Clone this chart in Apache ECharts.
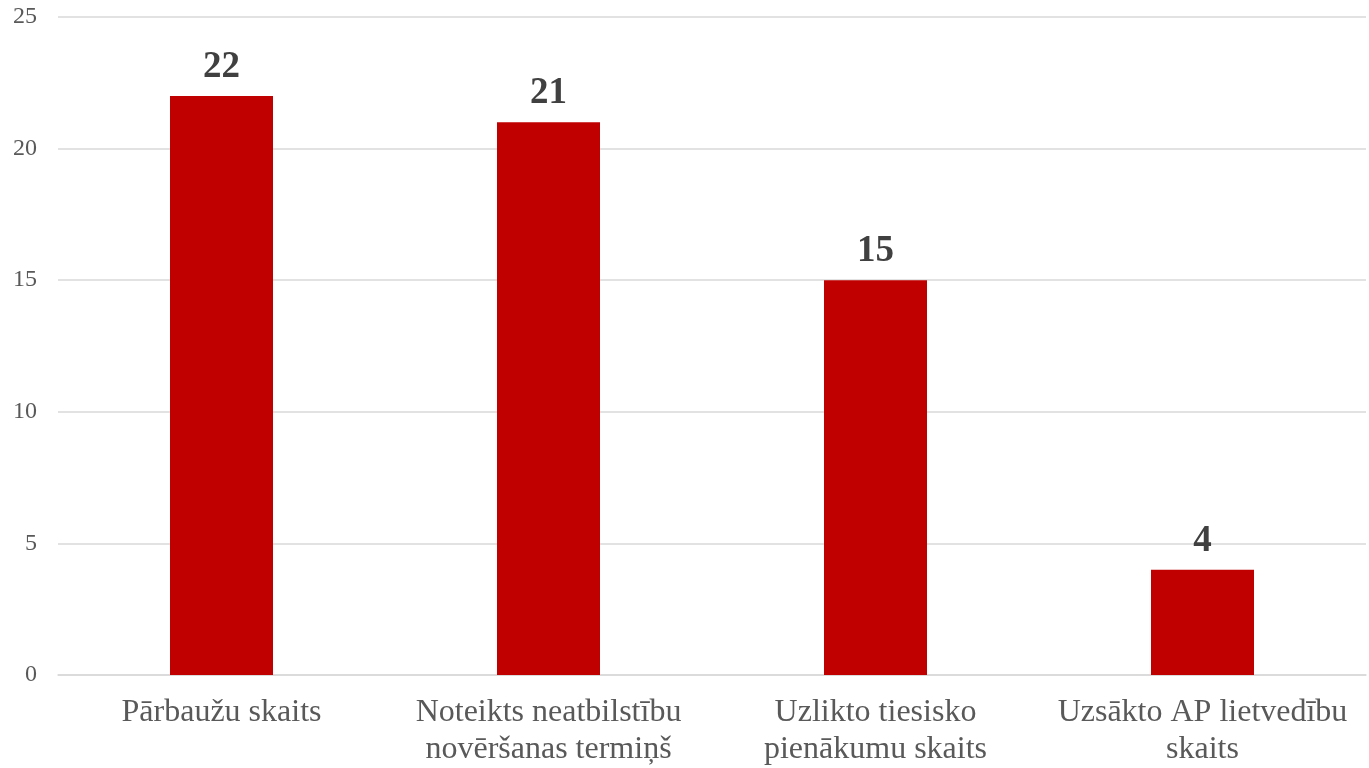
<!DOCTYPE html>
<html><head><meta charset="utf-8">
<script src="https://cdn.jsdelivr.net/npm/echarts@6/dist/echarts.min.js"></script>
<style>html,body{margin:0;padding:0;background:#fff}#c{width:1369px;height:768px}</style>
</head><body><div id="c"></div>
<script>
const categories = ['Pārbaužu skaits', 'Noteikts neatbilstību\nnovēršanas termiņš', 'Uzlikto tiesisko\npienākumu skaits', 'Uzsākto AP lietvedību\nskaits'];
const values = [22, 21, 15, 4];
const font = '"Liberation Serif", "Times New Roman", serif';
const chart = echarts.init(document.getElementById('c'));
chart.setOption({
  animation: false,
  grid: {left: 58, right: 3, top: 17, bottom: 92, containLabel: false},
  xAxis: {
    type: 'category', data: categories,
    axisLine: {lineStyle: {color: '#d9d9d9', width: 1.5}},
    axisTick: {show: false},
    axisLabel: {color: '#595959', fontFamily: font, fontSize: 32, lineHeight: 37, margin: 19, interval: 0}
  },
  yAxis: {
    type: 'value', min: 0, max: 25, interval: 5,
    axisLine: {show: false}, axisTick: {show: false},
    splitLine: {lineStyle: {color: '#d9d9d9', width: 1.5}},
    axisLabel: {color: '#595959', fontFamily: font, fontSize: 24, margin: 21}
  },
  series: [{
    type: 'bar', data: values, barWidth: '31.5%',
    itemStyle: {color: '#c00000'},
    label: {show: true, position: 'top', distance: 10, color: '#404040', fontFamily: font, fontSize: 37, fontWeight: 'bold'}
  }]
});
</script></body></html>
